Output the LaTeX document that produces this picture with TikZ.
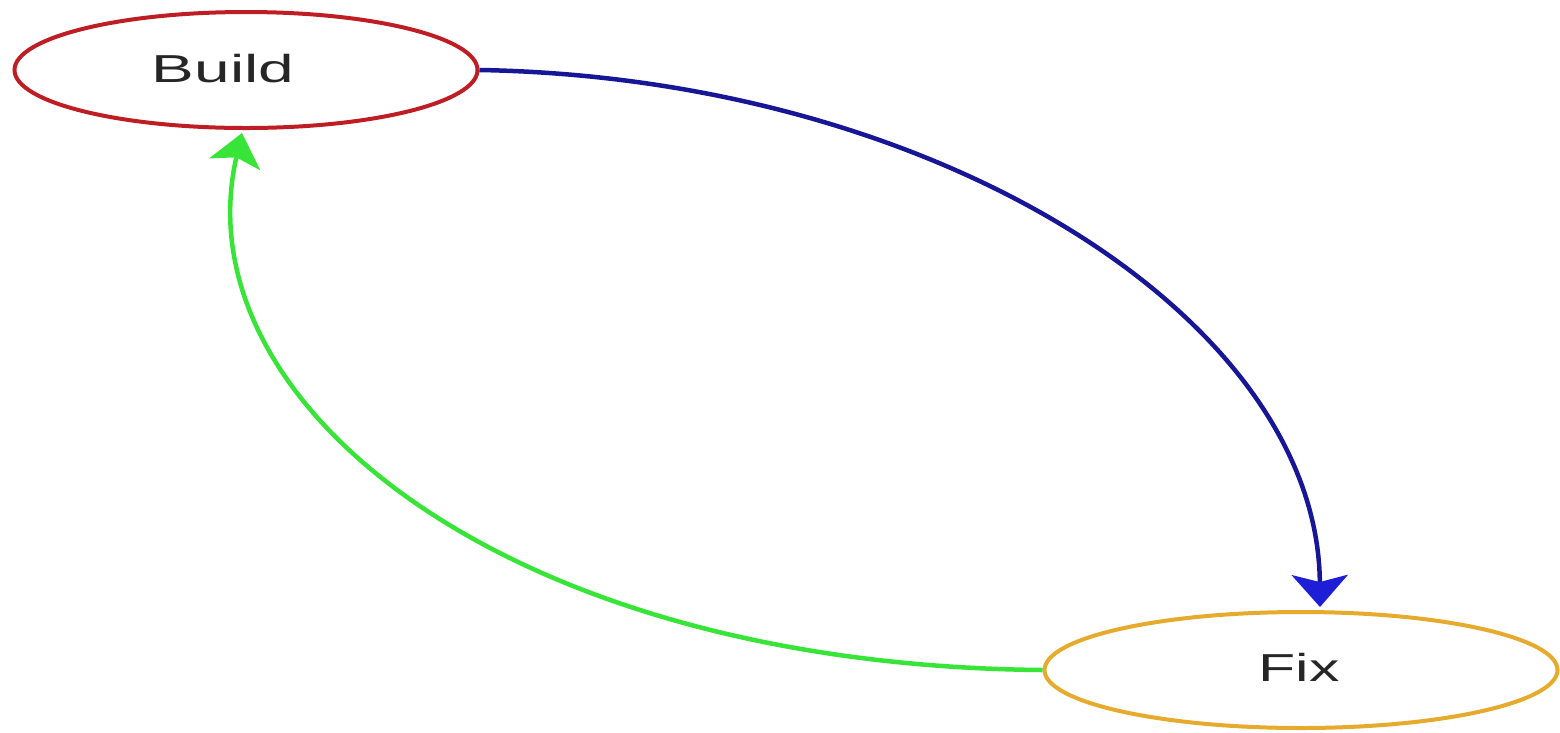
\documentclass[tikz,border=0pt]{standalone}
\usepackage{fontspec}
\setmainfont{Liberation Sans}
\usetikzlibrary{arrows.meta,shapes.geometric}
\definecolor{bred}{RGB}{190,30,35}
\definecolor{forange}{RGB}{230,170,45}
\definecolor{eblue}{RGB}{22,22,150}
\definecolor{eblueh}{RGB}{30,30,215}
\definecolor{egreen}{RGB}{55,228,55}
\begin{document}
\begin{tikzpicture}[x=1pt,y=-1pt,
  state/.style={ellipse, draw, line width=4pt, minimum width=463pt, minimum height=116pt, inner sep=0pt},
  lbl/.style={font=\fontsize{39}{44}\selectfont, text=black!85, xscale=1.64, inner sep=0pt},
  edge/.style={line width=4.5pt}]
\useasboundingbox (0,0) rectangle (1560,732);
\node[state, draw=bred] (build) at (246,70) {};
\node[lbl] (buildlbl) at (223,69) {Build};
\node[state, draw=forange, minimum width=513pt] (fix) at (1301,670) {};
\node[lbl, xscale=0.95] (fixlbl) at (1299,667) {Fix};
\coordinate (fixtop) at (1320,607);
\coordinate (buildbot) at (242,133);
\draw[edge, draw=eblue, -{Stealth[length=32pt,width=56pt,inset=7pt,color=eblueh]}] (build.east) .. controls (940,78) and (1318,320) .. (fixtop);
\draw[edge, draw=egreen, -{Stealth[length=32pt,width=52pt,inset=7pt]}] (fix.west) .. controls (500,665) and (180,400) .. (buildbot);
\end{tikzpicture}
\end{document}
